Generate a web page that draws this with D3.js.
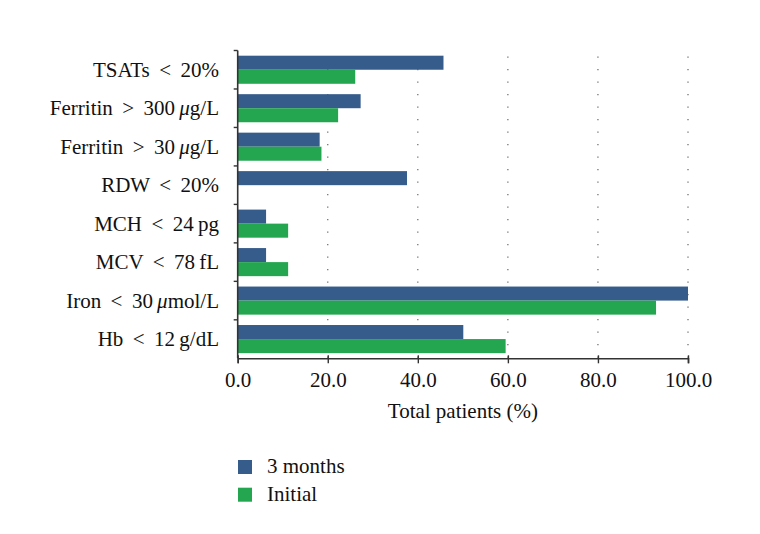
<!DOCTYPE html>
<html>
<head>
<meta charset="utf-8">
<script src="https://cdn.jsdelivr.net/npm/d3@7"></script>
<style>
  body { margin: 0; background: #fff; }
  svg { display: block; font-family: "Liberation Serif", "DejaVu Serif", serif; }
</style>
</head>
<body>
<svg id="chart" width="760" height="534"></svg>
<script>
// categories top to bottom; label split so the mu can be italic
var categories = ['TSATs', 'Ferritin300', 'Ferritin30', 'RDW', 'MCH', 'MCV', 'Iron', 'Hb'];
var labelParts = [
    ['TSATs \u2009<\u2009 20%'],
    ['Ferritin \u2009>\u2009 300\u2009', '\u03bc', 'g/L'],
    ['Ferritin \u2009>\u2009 30\u2009', '\u03bc', 'g/L'],
    ['RDW \u2009<\u2009 20%'],
    ['MCH \u2009<\u2009 24\u2009pg'],
    ['MCV \u2009<\u2009 78\u2009fL'],
    ['Iron \u2009<\u2009 30\u2009', '\u03bc', 'mol/L'],
    ['Hb \u2009<\u2009 12\u2009g/dL']
];
var threeMonths = [45.7, 27.3, 18.2, 37.6, 6.3, 6.3, 100, 50.1];
var initial = [26.1, 22.3, 18.6, 0, 11.2, 11.2, 92.9, 59.5];
var xTicks = [0, 20, 40, 60, 80, 100];
var seriesNames = ['3 months', 'Initial'];
var colors = ['#365c8c', '#23a64f'];

var svg = d3.select('#chart');
var plotLeft = 237.7, plotRight = 688, plotTop = 50.5, plotBottom = 358.3;
var fontSize = '21px';

var x = d3.scaleLinear().domain([0, 100]).range([plotLeft, plotRight]);
var y = d3.scaleBand().domain(categories).range([plotTop, plotBottom]);
var inner = d3.scaleBand().domain([0, 1]).range([0, y.bandwidth()]).paddingOuter(0.37);

// dotted grid lines
svg.append('g').selectAll('line')
    .data(xTicks.slice(1))
    .enter().append('line')
    .attr('x1', function(d) { return x(d); })
    .attr('x2', function(d) { return x(d); })
    .attr('y1', plotTop + 6)
    .attr('y2', plotBottom)
    .style('stroke', '#666')
    .style('stroke-width', 1.2)
    .style('stroke-dasharray', '1.2,11.3');

// bars
var rows = svg.append('g').selectAll('g')
    .data(categories)
    .enter().append('g')
    .attr('transform', function(d) { return 'translate(0,' + y(d) + ')'; });

[threeMonths, initial].forEach(function(series, s) {
    rows.append('rect')
        .attr('x', x(0))
        .attr('y', inner(s))
        .attr('height', inner.bandwidth())
        .attr('width', function(d, i) { return x(series[i]) - x(0); })
        .style('fill', colors[s]);
});

// y axis with ticks at band boundaries
var yAxis = svg.append('g');
yAxis.append('line')
    .attr('x1', plotLeft).attr('x2', plotLeft)
    .attr('y1', plotTop).attr('y2', plotBottom)
    .style('stroke', '#333').style('stroke-width', 1.6);
yAxis.selectAll('line.tick')
    .data(categories)
    .enter().append('line')
    .attr('class', 'tick')
    .attr('x1', plotLeft - 4).attr('x2', plotLeft)
    .attr('y1', function(d) { return y(d); })
    .attr('y2', function(d) { return y(d); })
    .style('stroke', '#333').style('stroke-width', 1.4);

var labels = yAxis.selectAll('text')
    .data(categories)
    .enter().append('text')
    .attr('x', 219)
    .attr('y', function(d) { return y(d) + y.bandwidth() / 2 + 7; })
    .style('text-anchor', 'end')
    .style('font-size', fontSize)
    .style('fill', '#111');
labels.each(function(d, i) {
    var t = d3.select(this);
    labelParts[i].forEach(function(p, j) {
        t.append('tspan').text(p).style('font-style', j == 1 ? 'italic' : 'normal');
    });
});

// x axis
var xAxis = svg.append('g').attr('transform', 'translate(0,' + plotBottom + ')')
    .call(d3.axisBottom(x).tickValues(xTicks).tickFormat(d3.format('.1f')).tickSize(5).tickPadding(9));
xAxis.select('.domain').style('stroke', '#333').style('stroke-width', 1.6);
xAxis.selectAll('.tick line').attr('y1', -3).style('stroke', '#333').style('stroke-width', 1.4);
xAxis.selectAll('text')
    .style('font-family', '"Liberation Serif", serif')
    .style('font-size', fontSize)
    .style('fill', '#111');

svg.append('text')
    .attr('x', (plotLeft + plotRight) / 2)
    .attr('y', 418)
    .style('text-anchor', 'middle')
    .style('font-size', fontSize)
    .style('fill', '#111')
    .text('Total patients (%)');

// legend
var legend = svg.append('g').selectAll('g')
    .data(seriesNames)
    .enter().append('g')
    .attr('transform', function(d, i) { return 'translate(238,' + (460 + i * 27.7) + ')'; });
legend.append('rect')
    .attr('width', 14).attr('height', 14)
    .style('fill', function(d, i) { return colors[i]; });
legend.append('text')
    .attr('x', 29).attr('y', 13)
    .style('font-size', fontSize)
    .style('fill', '#111')
    .text(function(d) { return d; });
</script>
</body>
</html>
